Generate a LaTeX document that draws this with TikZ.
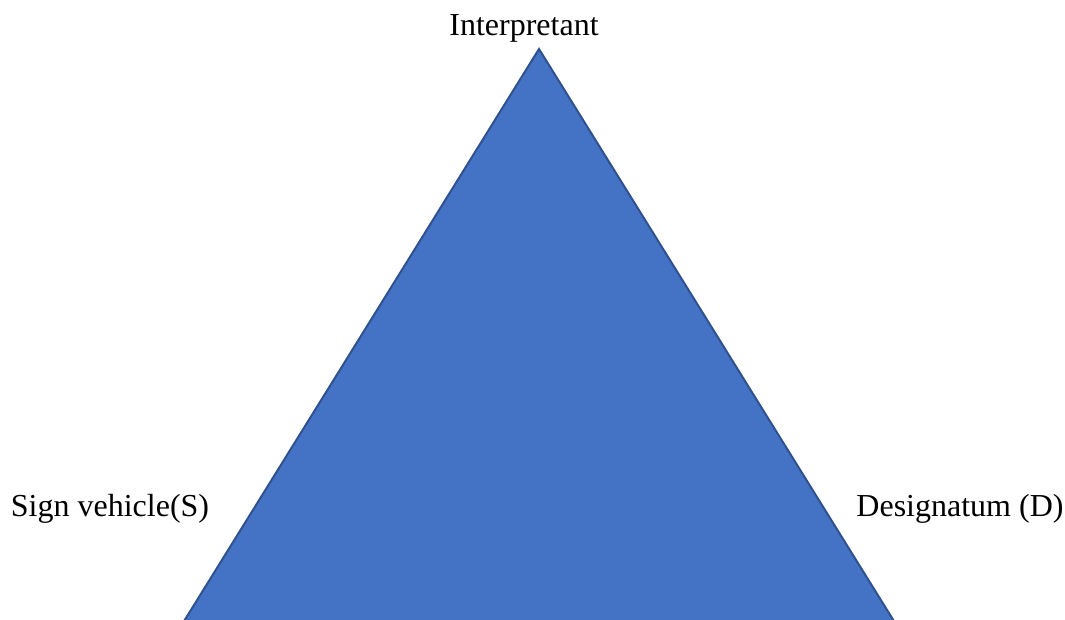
\documentclass[tikz,border=0pt]{standalone}
\usepackage{fontspec}
\setmainfont{Liberation Serif}
\usepackage{xcolor}
\usetikzlibrary{positioning}
\definecolor{trifill}{HTML}{4472C4}
\definecolor{triborder}{HTML}{2F528F}

\begin{document}
\begin{tikzpicture}[x=0.75pt, y=-0.75pt,
    label text/.style={font=\fontsize{24}{28}\selectfont, inner sep=0pt, anchor=base}]
    \useasboundingbox (0,0) rectangle (1065,620);
    \clip (0,0) rectangle (1065,620);

    % corners of the triangle
    \coordinate (apex) at (539,49);
    \coordinate (left) at (181,626);
    \coordinate (right) at (897,626);

    \draw[fill=trifill, draw=triborder, line width=1.5pt, line join=miter]
      (apex) -- (left) -- (right) -- cycle;

    \node[label text] (interp) at (524,36) {Interpretant};
    \node[label text] (sign) at (110,517) {Sign vehicle(S)};
    \node[label text] (desig) at (960,517) {Designatum (D)};
  \end{tikzpicture}
\end{document}
